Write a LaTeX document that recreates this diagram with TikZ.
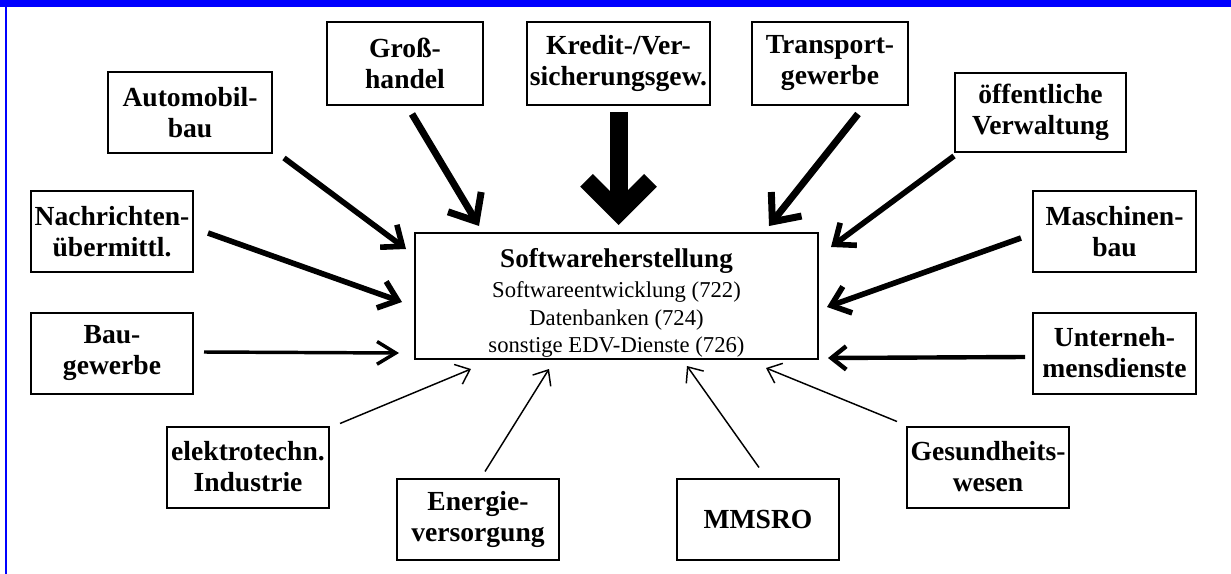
\documentclass[tikz,border=0pt]{standalone}
\usepackage{fontspec}
\setmainfont{Liberation Serif}
\usetikzlibrary{arrows.meta}
\begin{document}
\begin{tikzpicture}[x=0.75pt,y=-0.75pt,
  box/.style={draw, line width=1.5pt, inner sep=0pt, align=center,
    font=\fontsize{20.7}{23.25}\selectfont\bfseries,
    minimum width=121.5pt, minimum height=60.75pt},
  topbox/.style={box, minimum height=62.25pt},
  mainbox/.style={draw, line width=1.5pt, inner sep=0pt,
    minimum width=302.25pt, minimum height=94.5pt},
  maintext/.style={inner sep=0pt, align=center, font=\fontsize{17}{20.6}\selectfont},
  akredit/.style={line width=13.5pt, -{Straight Barb[length=24pt,width=48pt]}},
  aseven/.style={line width=5.25pt, -{Straight Barb[length=17pt,width=29pt]}},
  afive/.style={line width=4.2pt, -{Straight Barb[length=13pt,width=21pt]}},
  afour/.style={line width=3.3pt, -{Straight Barb[length=11pt,width=17.5pt]}},
  athree/.style={line width=2.6pt, -{Straight Barb[length=14pt,width=17pt]}},
  aone/.style={line width=1.1pt, -{Straight Barb[length=9.5pt,width=16pt]}},
]
\useasboundingbox (0,0) rectangle (1231,574);
\fill[blue] (0,0) rectangle (1231,7.3);
\fill[blue] (5,0) rectangle (7.3,574);

\node[mainbox] (soft) at (616.5,296) {};
\node[maintext] (softtext) at (616.5,303) {{\fontsize{20.3}{22}\selectfont\bfseries Softwareherstellung}\\[2pt]
  Softwareentwicklung (722)\\ Datenbanken (724)\\ sonstige EDV-Dienste (726)};

\node[box, minimum width=123pt] (auto) at (190,112.5) {Automobil-\\bau};
\node[topbox, minimum width=117pt] (gross) at (405,63.5) {Groß-\\handel};
\node[topbox, minimum width=137.25pt] (kredit) at (618.5,63.5) {Kredit-/Ver-\\sicherungsgew.};
\node[topbox, minimum width=117pt] (transp) at (830,63.5) {Transport-\\gewerbe};
\node[box, minimum width=128.25pt, minimum height=59.25pt] (oeff) at (1040.5,112.5) {öffentliche\\Verwaltung};
\node[box] (nachr) at (112,231.5) {Nachrichten-\\übermittl.};
\node[box] (bau) at (112,353.5) {Bau-\\gewerbe};
\node[box, minimum width=122.25pt] (masch) at (1114.5,231.5) {Maschinen-\\bau};
\node[box, minimum width=122.25pt] (untern) at (1114.5,353) {Unterneh-\\mensdienste};
\node[box] (elektro) at (248,467) {elektrotechn.\\Industrie};
\node[box] (energie) at (478,519) {Energie-\\versorgung};
\node[box] (mmsro) at (758,519) {MMSRO};
\node[box] (gesund) at (988,467) {Gesundheits-\\wesen};

\draw[afive] ([shift={(11,4)}]auto.south east) -- ([shift={(-8,17)}]soft.north west);
\draw[aseven] ([shift={(7,8)}]gross.south) -- ([shift={(65,-6)}]soft.north west);
\draw[akredit] ([shift={(0,6)}]kredit.south) -- ([shift={(2,-7)}]soft.north);
\draw[aseven] ([shift={(28,8)}]transp.south) -- ([shift={(-50,-6)}]soft.north east);
\draw[afive] ([shift={(0,3)}]oeff.south west) -- ([shift={(12,15)}]soft.north east);
\draw[afive] ([shift={(14,1.5)}]nachr.east) -- ([shift={(-12,6)}]soft.west);
\draw[athree] ([shift={(10,-1.5)}]bau.east) -- ([shift={(-15,-7)}]soft.south west);
\draw[afive] ([shift={(-11,6.5)}]masch.west) -- ([shift={(8,11)}]soft.east);
\draw[afour] ([shift={(-7,4)}]untern.west) -- ([shift={(9,-2)}]soft.south east);
\draw[aone] ([shift={(10,-2)}]elektro.north east) -- ([shift={(57,9)}]soft.south west);
\draw[aone] ([shift={(7,-6)}]energie.north) -- ([shift={(135,9)}]soft.south west);
\draw[aone] ([shift={(1,-10)}]mmsro.north) -- ([shift={(70.5,6)}]soft.south);
\draw[aone] ([shift={(-9,-4)}]gesund.north west) -- ([shift={(-53,8)}]soft.south east);
\end{tikzpicture}
\end{document}
